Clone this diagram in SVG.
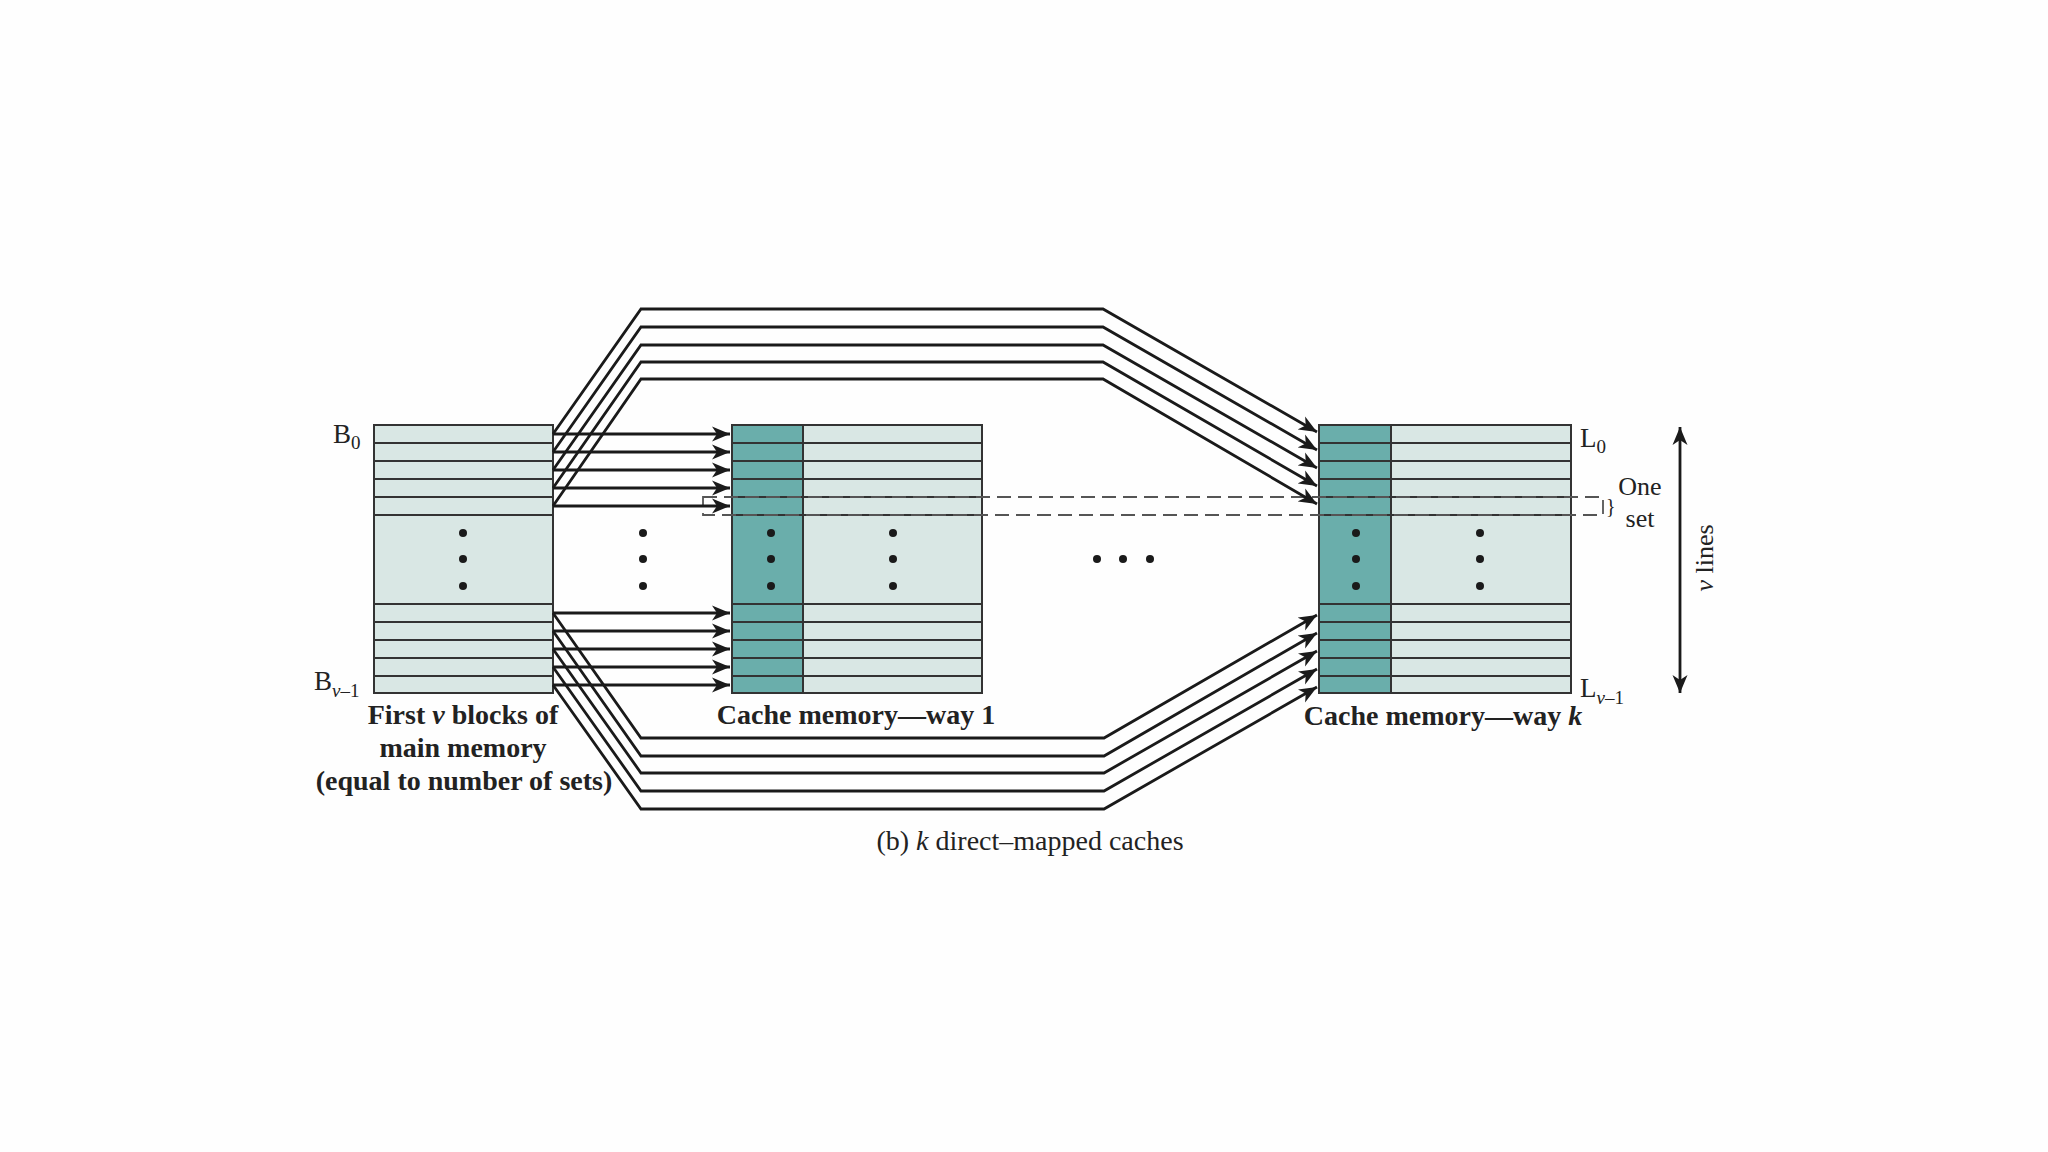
<svg xmlns="http://www.w3.org/2000/svg" width="2048" height="1152" viewBox="0 0 2048 1152">
<style>
.light{fill:#d9e7e4;stroke:#333;stroke-width:2}
.teal{fill:#6aaeab;stroke:#333;stroke-width:2}
.row{stroke:#333;stroke-width:2;fill:none}
.conn{stroke:#1a1a1a;stroke-width:2.8;fill:none;stroke-linejoin:miter}
.dash{stroke:#555;stroke-width:1.8;fill:none;stroke-dasharray:14 7}
.dot{fill:#1a1a1a}
.lbl{font-family:"Liberation Serif","Times New Roman",serif;fill:#222}
.bold{font-weight:bold;font-size:28px;text-anchor:middle}
</style>
<defs>
<marker id="ah" markerUnits="userSpaceOnUse" markerWidth="20" markerHeight="16" refX="18" refY="7.5" orient="auto-start-reverse" viewBox="0 0 20 15">
<path d="M0,0 L18,7.5 L0,15 L5,7.5 z" fill="#1a1a1a"/>
</marker>
</defs>
<rect width="2048" height="1152" fill="#fefefe"/>

<g id="main-memory">
<rect class="light" x="374" y="425" width="179" height="268"/>
<path class="row" d="M374,443H553M374,461H553M374,479H553M374,497H553M374,515H553M374,604H553M374,622H553M374,640H553M374,658H553M374,676H553"/>
<circle class="dot" cx="463" cy="533" r="4"/><circle class="dot" cx="463" cy="559" r="4"/><circle class="dot" cx="463" cy="586" r="4"/>
<text class="lbl" x="333" y="443" font-size="27">B<tspan font-size="19" dy="6">0</tspan></text>
<text class="lbl" x="314" y="690" font-size="27">B<tspan font-size="19" dy="7"><tspan font-style="italic">ν</tspan>–1</tspan></text>
<text class="lbl bold" x="463" y="724">First <tspan font-style="italic">v</tspan> blocks of</text>
<text class="lbl bold" x="463" y="757">main memory</text>
<text class="lbl bold" x="464" y="790">(equal to number of sets)</text>
</g>

<g id="middle-dots">
<circle class="dot" cx="643" cy="533" r="4"/><circle class="dot" cx="643" cy="559" r="4"/><circle class="dot" cx="643" cy="586" r="4"/>
</g>

<g id="cache-way-1">
<rect class="light" x="732" y="425" width="250" height="268"/>
<rect class="teal" x="732" y="425" width="71" height="268"/>
<path class="row" d="M732,443H982M732,461H982M732,479H982M732,497H982M732,515H982M732,604H982M732,622H982M732,640H982M732,658H982M732,676H982"/>
<circle class="dot" cx="771" cy="533" r="4"/><circle class="dot" cx="771" cy="559" r="4"/><circle class="dot" cx="771" cy="586" r="4"/>
<circle class="dot" cx="893" cy="533" r="4"/><circle class="dot" cx="893" cy="559" r="4"/><circle class="dot" cx="893" cy="586" r="4"/>
<text class="lbl bold" x="856" y="724">Cache memory—way 1</text>
</g>

<g id="ellipsis">
<circle class="dot" cx="1097" cy="559" r="4"/><circle class="dot" cx="1123" cy="559" r="4"/><circle class="dot" cx="1150" cy="559" r="4"/>
</g>

<g id="cache-way-k">
<rect class="light" x="1319" y="425" width="252" height="268"/>
<rect class="teal" x="1319" y="425" width="72" height="268"/>
<path class="row" d="M1319,443H1571M1319,461H1571M1319,479H1571M1319,497H1571M1319,515H1571M1319,604H1571M1319,622H1571M1319,640H1571M1319,658H1571M1319,676H1571"/>
<circle class="dot" cx="1356" cy="533" r="4"/><circle class="dot" cx="1356" cy="559" r="4"/><circle class="dot" cx="1356" cy="586" r="4"/>
<circle class="dot" cx="1480" cy="533" r="4"/><circle class="dot" cx="1480" cy="559" r="4"/><circle class="dot" cx="1480" cy="586" r="4"/>
<text class="lbl" x="1580" y="447" font-size="27">L<tspan font-size="19" dy="6">0</tspan></text>
<text class="lbl" x="1580" y="697" font-size="27">L<tspan font-size="19" dy="7"><tspan font-style="italic">ν</tspan>–1</tspan></text>
<text class="lbl bold" x="1443" y="725">Cache memory—way <tspan font-style="italic">k</tspan></text>
</g>

<g id="one-set">
<rect class="dash" x="703" y="497" width="900" height="18"/>
<text class="lbl" x="1606" y="513" font-size="20">}</text>
<text class="lbl" x="1640" y="495" font-size="26" text-anchor="middle">One</text>
<text class="lbl" x="1640" y="527" font-size="26" text-anchor="middle">set</text>
</g>

<g id="v-lines">
<line class="conn" x1="1680" y1="427" x2="1680" y2="693" marker-start="url(#ah)" marker-end="url(#ah)"/>
<text class="lbl" x="0" y="0" font-size="26" text-anchor="middle" transform="translate(1713,558) rotate(-90)"><tspan font-style="italic">ν</tspan> lines</text>
</g>

<g id="connectors">
<path class="conn" marker-end="url(#ah)" d="M553,434H730"/>
<path class="conn" marker-end="url(#ah)" d="M553,452H730"/>
<path class="conn" marker-end="url(#ah)" d="M553,470H730"/>
<path class="conn" marker-end="url(#ah)" d="M553,488H730"/>
<path class="conn" marker-end="url(#ah)" d="M553,506H730"/>
<path class="conn" marker-end="url(#ah)" d="M553,613H730"/>
<path class="conn" marker-end="url(#ah)" d="M553,631H730"/>
<path class="conn" marker-end="url(#ah)" d="M553,649H730"/>
<path class="conn" marker-end="url(#ah)" d="M553,667H730"/>
<path class="conn" marker-end="url(#ah)" d="M553,685H730"/>
<path class="conn" marker-end="url(#ah)" d="M553,434L641,309H1103L1317,432"/>
<path class="conn" marker-end="url(#ah)" d="M553,452L641,327H1103L1317,450"/>
<path class="conn" marker-end="url(#ah)" d="M553,470L641,345H1103L1317,468"/>
<path class="conn" marker-end="url(#ah)" d="M553,488L641,362H1103L1317,486"/>
<path class="conn" marker-end="url(#ah)" d="M553,506L641,379H1103L1317,504"/>
<path class="conn" marker-end="url(#ah)" d="M553,613L641,738H1104L1317,615"/>
<path class="conn" marker-end="url(#ah)" d="M553,631L641,756H1104L1317,633"/>
<path class="conn" marker-end="url(#ah)" d="M553,649L641,773H1104L1317,651"/>
<path class="conn" marker-end="url(#ah)" d="M553,667L641,791H1104L1317,669"/>
<path class="conn" marker-end="url(#ah)" d="M553,685L641,809H1104L1317,687"/>
</g>

<g id="caption">
<text class="lbl" x="1030" y="850" font-size="28" text-anchor="middle">(b) <tspan font-style="italic">k</tspan> direct–mapped caches</text>
</g>
</svg>
